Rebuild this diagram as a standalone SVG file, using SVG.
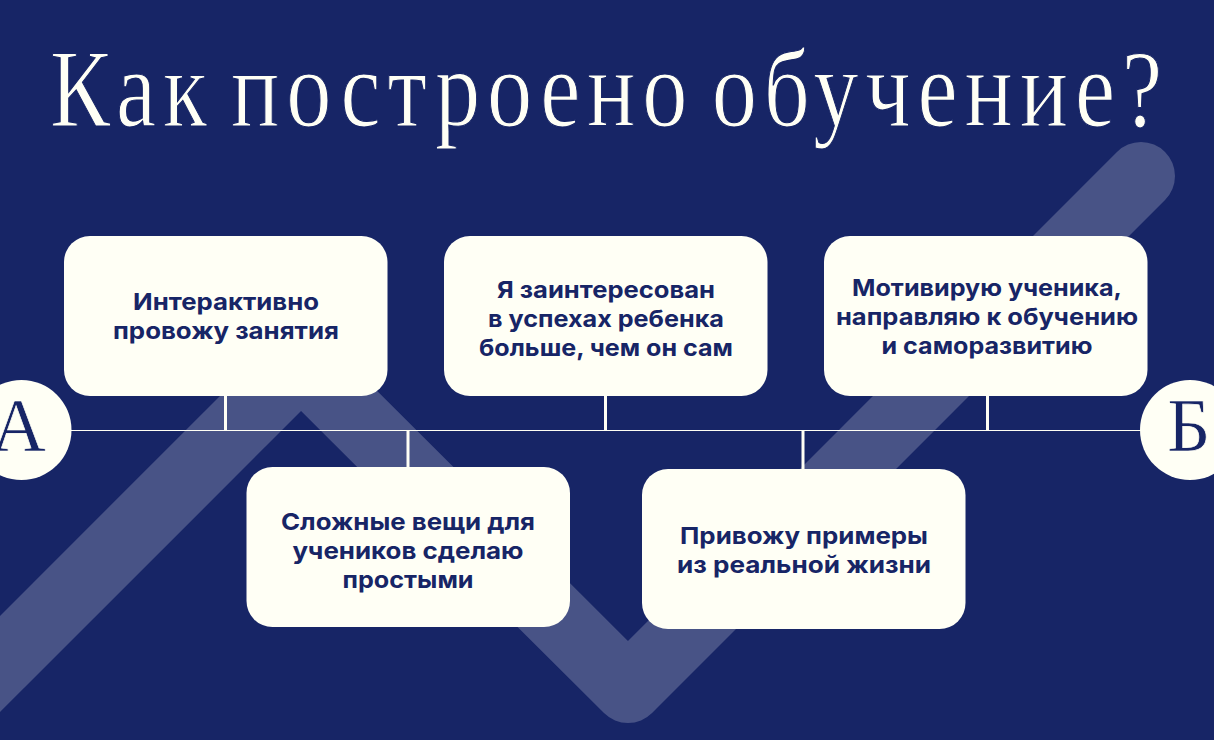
<svg xmlns="http://www.w3.org/2000/svg" width="1214" height="740" viewBox="0 0 1214 740">
<style>
.card{fill:#fffff5}
.t{font-family:"Inter","Noto Sans",sans-serif;font-weight:700;font-size:23.5px;fill:#172566;text-anchor:middle}
.d{font-family:"Liberation Serif",serif;fill:#fffff5;stroke:#172566;stroke-width:1.1px;word-spacing:-14px}
.c{font-family:"Liberation Serif",serif;fill:#172566;stroke:#fffff5;stroke-width:.7px;font-size:76px}
.v{stroke:#fffff5;stroke-width:3;fill:none}
</style>
<rect width="1214" height="740" fill="#172566"/>
<path d="M-100 764L301 363L628 689L1141 176" fill="none" stroke="#fff" stroke-opacity=".21" stroke-width="68" stroke-linecap="round" stroke-linejoin="round"/>
<text id="title" class="d" transform="translate(50 126) scale(.86 1.05)" font-size="105" textLength="1293" lengthAdjust="spacing">Как построено обучение?</text>
<g id="connectors">
<path d="M70 430.5H1142" stroke="#fffff5" stroke-width="1" fill="none"/>
<path class="v" d="M225.500 396V430M408 430V467M605.500 396V430M803 430V469M987.500 396V430"/>
</g>
<g id="point-a"><circle cx="21.500" cy="430" r="50" fill="#fffff5"/><text class="c" x="-9" y="451">А</text></g>
<g id="point-b"><circle cx="1190" cy="430" r="50" fill="#fffff5"/><text class="c" x="1167" y="451">Б</text></g>
<g id="card1"><rect class="card" x="64" y="236" width="323.500" height="160" rx="26"/><text class="t"><tspan x="226" y="310" textLength="186" lengthAdjust="spacingAndGlyphs">Интерактивно</tspan><tspan x="226" y="339" textLength="226" lengthAdjust="spacingAndGlyphs">провожу занятия</tspan></text></g>
<g id="card2"><rect class="card" x="246.500" y="467" width="323.500" height="160" rx="26"/><text class="t"><tspan x="408" y="530" textLength="254" lengthAdjust="spacingAndGlyphs">Сложные вещи для</tspan><tspan x="408" y="559" textLength="231" lengthAdjust="spacingAndGlyphs">учеников сделаю</tspan><tspan x="408" y="588" textLength="131" lengthAdjust="spacingAndGlyphs">простыми</tspan></text></g>
<g id="card3"><rect class="card" x="444" y="236" width="323.500" height="160" rx="26"/><text class="t"><tspan x="606" y="298" textLength="218" lengthAdjust="spacingAndGlyphs">Я заинтересован</tspan><tspan x="606" y="327" textLength="236" lengthAdjust="spacingAndGlyphs">в успехах ребенка</tspan><tspan x="606" y="356" textLength="254" lengthAdjust="spacingAndGlyphs">больше, чем он сам</tspan></text></g>
<g id="card4"><rect class="card" x="642" y="469" width="323.500" height="160" rx="26"/><text class="t"><tspan x="804" y="544" textLength="248" lengthAdjust="spacingAndGlyphs">Привожу примеры</tspan><tspan x="804" y="573" textLength="254" lengthAdjust="spacingAndGlyphs">из реальной жизни</tspan></text></g>
<g id="card5"><rect class="card" x="824" y="236" width="323.500" height="160" rx="26"/><text class="t"><tspan x="987" y="296" textLength="270" lengthAdjust="spacingAndGlyphs">Мотивирую ученика,</tspan><tspan x="987" y="325" textLength="302" lengthAdjust="spacingAndGlyphs">направляю к обучению</tspan><tspan x="987" y="354" textLength="211" lengthAdjust="spacingAndGlyphs">и саморазвитию</tspan></text></g>
</svg>
